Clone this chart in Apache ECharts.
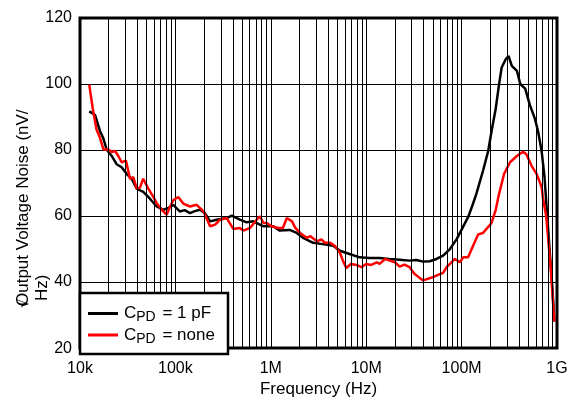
<!DOCTYPE html>
<html>
<head>
<meta charset="utf-8">
<script src="https://cdn.jsdelivr.net/npm/echarts@6/dist/echarts.min.js"></script>
<style>
html,body{margin:0;padding:0;background:#fff;overflow:hidden;}
#chart{width:574px;height:403px;}
</style>
</head>
<body>
<div id="chart"></div>
<script>
// ---- Data ----
const freqBlack = [12.5e3,14.4e3,16.2e3,17.5e3,19e3,21.5e3,24.2e3,27.3e3,30.8e3,34.8e3,39.3e3,46e3,52e3,57e3,63.6e3,74.9e3,85e3,95e3,111e3,125e3,142e3,160e3,181e3,204e3,231e3,271e3,345e3,390e3,474e3,558e3,657e3,836e3,1.06e6,1.24e6,1.58e6,1.87e6,2.18e6,2.78e6,3.5e6,4.5e6,5.3e6,6.7e6,8.5e6,10.8e6,13.8e6,17.4e6,22.4e6,28.5e6,33.5e6,39.5e6,46.4e6,54.5e6,64e6,75.5e6,88.8e6,100e6,118e6,132e6,143e6,168e6,190e6,206e6,228e6,246e6,263e6,290e6,310e6,336e6,380e6,412e6,464e6,520e6,585e6,633e6,690e6,740e6,790e6,850e6,900e6,940e6];
const noiseBlack = [91.7,90.6,85.7,83.7,80.2,78.2,75.7,74.8,72.8,71.3,68.3,67.3,65.8,64.5,62.9,61.9,62.5,63.4,61.4,61.8,60.9,61.5,61.9,60.9,58.4,58.9,59.4,60.1,58.9,58.1,58.4,56.9,56.9,55.6,55.8,54.9,53.4,51.9,51.5,51,49.5,48.5,47.5,47.3,47.3,47,46.8,46.5,46.7,46.2,46.3,47,48,50,53,55.9,59.9,63.8,66.8,73.8,79.7,85.7,92.6,99.6,105,107.5,108.5,105.5,104,100,98.6,93.6,89.6,85.7,79.7,71.8,60,47,37,28];

const freqRed = [12.5e3,13.6e3,14.9e3,16.2e3,17.6e3,19.8e3,21.5e3,23.3e3,25.2e3,27.3e3,30.3e3,33.4e3,36.2e3,39.3e3,42.5e3,46e3,52e3,58.7e3,64e3,72e3,81e3,88e3,95e3,107e3,121e3,142e3,167e3,197e3,231e3,261e3,294e3,345e3,404e3,474e3,515e3,606e3,711e3,770e3,836e3,906e3,1.02e6,1.2e6,1.34e6,1.47e6,1.67e6,1.8e6,2.03e6,2.38e6,2.6e6,3.05e6,3.4e6,3.7e6,4.2e6,4.7e6,5.3e6,5.7e6,6.2e6,6.9e6,7.9e6,8.9e6,10e6,11.3e6,12.9e6,13.8e6,15.8e6,17.7e6,20e6,22.4e6,25.2e6,28.5e6,32e6,36.6e6,39.5e6,44.5e6,50e6,56.6e6,64e6,69.6e6,75.5e6,85e6,96e6,104e6,117e6,132e6,149e6,168e6,206e6,228e6,246e6,279e6,322e6,380e6,440e6,477e6,540e6,610e6,690e6,710e6,770e6,850e6,938e6];
const noiseRed = [99.8,92.6,86.2,83.7,80.2,80.2,79.4,79.7,78.2,76.3,76.8,71.3,71.8,68.3,68.6,71.3,68.3,65.8,63.8,61.9,60.4,62.9,64.8,65.8,63.8,62.9,63.4,61.4,56.9,57.4,58.9,59.4,56.1,56.4,55.6,56.4,58.9,59.9,57.9,57.9,56.9,56.4,56.4,59.4,58.4,56.5,54.9,53.4,53.9,52.4,52.9,51.9,51.9,50.9,48.9,46.5,44.2,45.5,45.2,44.5,45.5,45.2,46,45.5,47,46.5,46,44.7,45.3,44.5,42.5,41.2,40.5,41,41.5,42.2,42.8,44.5,45.5,47,46,47.5,47.5,51,54.4,54.9,57.9,61.9,66.5,72.8,76.3,78.2,79.5,78.7,75.3,72.8,68.8,65.8,59.9,46,28.1];

const seriesNames = ['CPD = 1 pF', 'CPD = none'];
const xTickLabels = ['10k', '100k', '1M', '10M', '100M', '1G'];
const yTicks = [20, 40, 60, 80, 100, 120];
const minorMultiples = [2, 3, 4, 5, 6, 7, 8, 9];
const decades = [1e4, 1e5, 1e6, 1e7, 1e8];

const minorLines = [];
decades.forEach(d => minorMultiples.forEach(m => minorLines.push({ xAxis: d * m })));

const FONT = 'Liberation Sans';
const chart = echarts.init(document.getElementById('chart'));

chart.setOption({
  animation: false,
  backgroundColor: '#fff',
  grid: { left: 80, right: 17, top: 18, bottom: 49, show: true, borderColor: '#000', borderWidth: 3, backgroundColor: 'transparent' },
  xAxis: {
    type: 'log', logBase: 10, min: 1e4, max: 1e9,
    name: 'Frequency (Hz)', nameLocation: 'middle', nameGap: 29,
    nameTextStyle: { fontFamily: FONT, fontSize: 17, color: '#000' },
    axisLine: { show: false },
    axisTick: { show: false },
    axisLabel: {
      fontFamily: FONT, fontSize: 16, color: '#000', margin: 12,
      formatter: v => xTickLabels[Math.round(Math.log10(v)) - 4]
    },
    splitLine: { show: true, lineStyle: { color: '#000', width: 1 } },
    minorSplitLine: { show: false }
  },
  yAxis: {
    type: 'value', min: yTicks[0], max: yTicks[yTicks.length - 1], interval: 20,
    axisLine: { show: false },
    axisTick: { show: false },
    axisLabel: { fontFamily: FONT, fontSize: 16, color: '#000', margin: 8 },
    splitLine: { show: true, lineStyle: { color: '#000', width: 1 } }
  },
  legend: {
    orient: 'vertical', left: 88, top: 305, padding: 0, itemGap: 2,
    itemWidth: 30, itemHeight: 3, icon: 'rect', z: 20,
    data: seriesNames,
    formatter: n => '{m|C}{s|PD}{m|' + n.slice(3) + '}',
    textStyle: {
      padding: [0, 0, 0, 1],
      rich: {
        m: { fontFamily: FONT, fontSize: 17, color: '#000' },
        s: { fontFamily: FONT, fontSize: 14, color: '#000', padding: [8, 2, 0, 0] }
      }
    }
  },
  graphic: [
    { type: 'rect', z: 15, shape: { x: 80, y: 293, width: 148, height: 61 }, style: { fill: '#fff', stroke: '#000', lineWidth: 2.5 } },
    { type: 'text', z: 5, x: 23, y: 306, rotation: Math.PI / 2, style: { text: 'Output Voltage Noise (nV/', font: '17px "Liberation Sans"', fill: '#000', align: 'left', verticalAlign: 'middle' } },
    { type: 'text', z: 5, x: 42, y: 301, rotation: Math.PI / 2, style: { text: 'Hz)', font: '17px "Liberation Sans"', fill: '#000', align: 'left', verticalAlign: 'middle' } },
    { type: 'text', z: 5, x: 24, y: 308, rotation: Math.PI / 2, style: { text: '\u221A', font: '15px "DejaVu Sans"', fill: '#000', align: 'left', verticalAlign: 'middle' } }
  ],
  series: [
    {
      name: 'minor', type: 'line', data: [], z: 1, silent: true,
      markLine: { silent: true, symbol: ['none', 'none'], label: { show: false }, lineStyle: { color: '#000', width: 1, type: 'solid' }, emphasis: { disabled: true }, data: minorLines }
    },
    {
      name: seriesNames[0], type: 'line', z: 3, symbol: 'none', smooth: false,
      color: '#000', lineStyle: { color: '#000', width: 2.5 },
      data: freqBlack.map((f, i) => [f, noiseBlack[i]])
    },
    {
      name: seriesNames[1], type: 'line', z: 4, symbol: 'none', smooth: false,
      color: '#ff0000', lineStyle: { color: '#ff0000', width: 2.5 },
      data: freqRed.map((f, i) => [f, noiseRed[i]])
    }
  ]
});
</script>
</body>
</html>
